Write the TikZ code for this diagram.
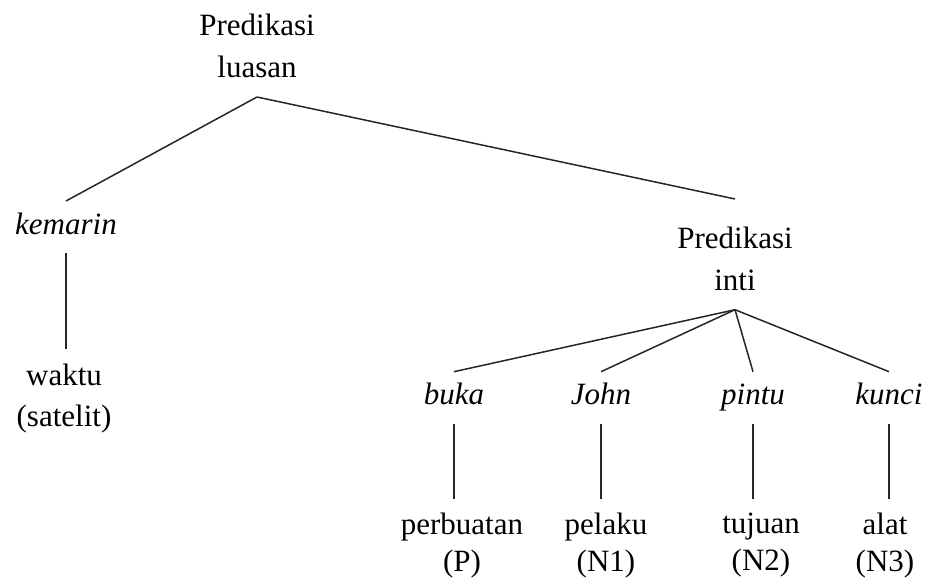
\documentclass[tikz,border=0pt]{standalone}
\usepackage{fontspec}
\setmainfont{Liberation Serif}
\usetikzlibrary{positioning}

\newcommand{\toprow}{\rule{0pt}{30pt}}

\begin{document}
\begin{tikzpicture}[x=1pt, y=-1pt,
    phrase/.style={align=center, inner xsep=0pt, inner ysep=19pt, font=\fontsize{31}{42}\selectfont},
    lex/.style={inner xsep=0pt, inner ysep=0pt, text height=33pt, text depth=19pt, font=\fontsize{31}{37}\selectfont\itshape},
    role/.style={align=center, inner xsep=0pt, inner ysep=14pt, font=\fontsize{31}{37}\selectfont},
    branch/.style={line width=1.5pt, black!85}
]

\useasboundingbox (0,0) rectangle (932,581);

\node[phrase, anchor=south] (luasan) at (257,97) {Predikasi\\luasan};

\node[lex, below=104pt of luasan, xshift=-191pt] (kemarin) {kemarin};
\node[phrase, below=102pt of luasan, xshift=478pt] (inti) {\toprow Predikasi\\inti};

\node[lex, below=62pt of inti, xshift=-281pt] (buka) {buka};
\node[lex, below=62pt of inti, xshift=-134pt] (john) {John};
\node[lex, below=62pt of inti, xshift=18pt] (pintu) {pintu};
\node[lex, below=62pt of inti, xshift=154pt] (kunci) {kunci};

\node[role, below=96pt of kemarin, xshift=-2pt, font=\fontsize{31}{41}\selectfont] (waktu) {waktu\\(satelit)};
\node[role, below=75pt of buka, xshift=8pt] (perbuatan) {perbuatan\\(P)};
\node[role, below=75pt of john, xshift=5pt] (pelaku) {pelaku\\(N1)};
\node[role, below=75pt of pintu, xshift=8pt] (tujuan) {tujuan\\(N2)};
\node[role, below=75pt of kunci, xshift=-4pt] (alat) {alat\\(N3)};

\foreach \source/\dest in {
    luasan/kemarin, luasan/inti,
    inti/buka, inti/john, inti/pintu, inti/kunci}
    \draw[branch] (\source.south) -- (\dest.north);

\foreach \source/\dest in {
    kemarin/waktu, buka/perbuatan, john/pelaku, pintu/tujuan, kunci/alat}
    \draw[branch] (\source.south) -- (\source.south |- \dest.north);

\end{tikzpicture}
\end{document}
